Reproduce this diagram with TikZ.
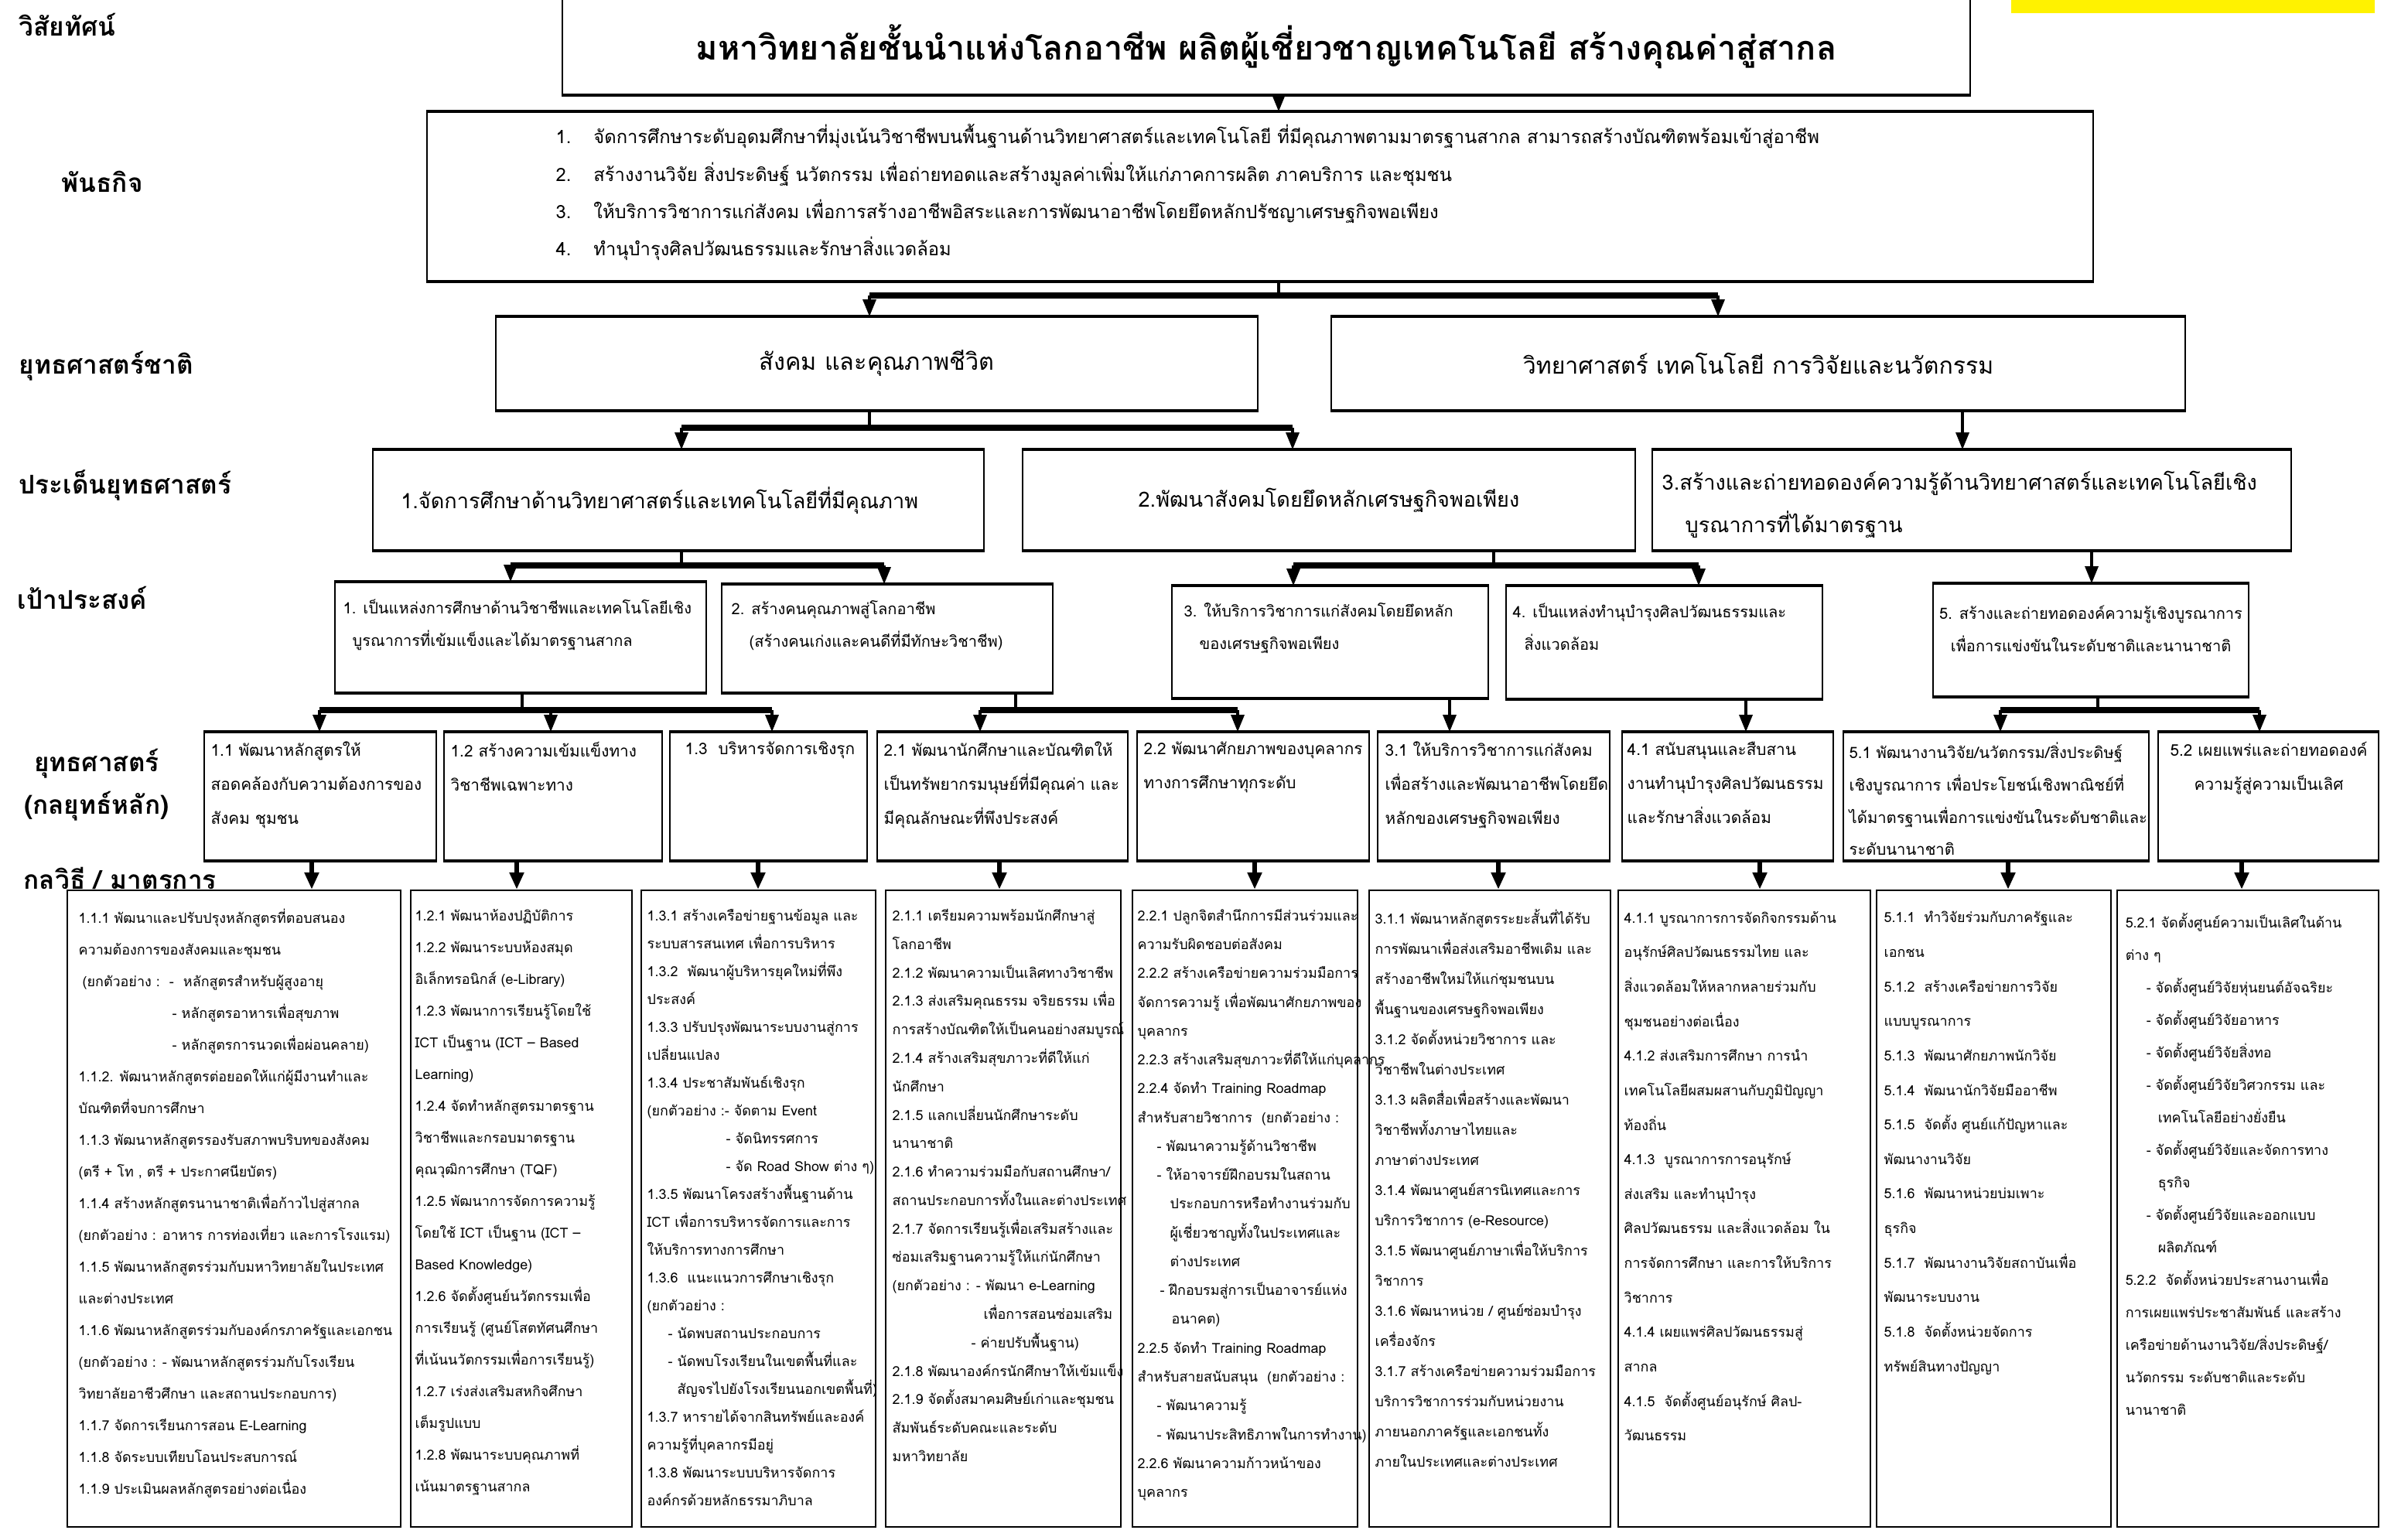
\documentclass[tikz,border=0pt]{standalone}
\usepackage{fontspec}
\setmainfont[Script=Thai]{Loma}
\usetikzlibrary{arrows.meta,fit}

\begin{document}
\begin{tikzpicture}[x=1cm,y=-1cm,
  box/.style={draw,line width=0.5pt,inner sep=0pt},
  mbox/.style={box,line width=0.7pt},
  edge/.style={line width=1.0pt},
  link/.style={line width=0.9pt,-{Triangle[length=0.22cm,width=0.17cm]}},
  drop/.style={line width=1.5pt,-{Triangle[length=0.22cm,width=0.18cm]}},
  stem/.style={line width=1.0pt},
  bar/.style={line width=2.4pt},
  head/.style={font=\bfseries\fontsize{9.5}{15.6}\selectfont,inner sep=0pt},
  txt/.style={inner sep=0pt,align=left,anchor=north west},
  stext/.style={txt,font=\fontsize{5.9}{12.5}\selectfont},
  gtext/.style={txt,font=\fontsize{5.7}{11.95}\selectfont},
  mtext/.style={txt,font=\fontsize{5.1}{#1}\selectfont}]
\useasboundingbox (0,0) rectangle (31.13,19.77);
\fill[yellow] (26.00,0) rectangle (30.70,0.17);

\node[head,anchor=west] (lvis) at (0.24,0.32) {วิสัยทัศน์};
\node[head,anchor=west] (lmis) at (0.79,2.35) {พันธกิจ};
\node[head,anchor=west] (lnat) at (0.24,4.73) {ยุทธศาสตร์ชาติ};
\node[head,anchor=west] (liss) at (0.24,6.27) {ประเด็นยุทธศาสตร์};
\node[head,anchor=west] (lgoal) at (0.22,7.73) {เป้าประสงค์};
\node[head,align=center] (lstr) at (1.25,10.15) {ยุทธศาสตร์\\(กลยุทธ์หลัก)};
\node[head,anchor=west] (lmea) at (0.30,11.35) {กลวิธี / มาตรการ};

\node[box,fit={(7.27,-0.03) (25.47,1.22)}] (vis) {};
\node[font=\bfseries\fontsize{12.3}{15}\selectfont] (vist) at (16.37,0.60)
  {มหาวิทยาลัยชั้นนำแห่งโลกอาชีพ ผลิตผู้เชี่ยวชาญเทคโนโลยี สร้างคุณค่าสู่สากล};

\node[box,fit={(5.52,1.45) (27.06,3.63)}] (mis) {};
\node[txt,font=\fontsize{6.75}{13.75}\selectfont] (mist) at (7.18,1.60)
  {1.\hspace{0.29cm}จัดการศึกษาระดับอุดมศึกษาที่มุ่งเน้นวิชาชีพบนพื้นฐานด้านวิทยาศาสตร์และเทคโนโลยี ที่มีคุณภาพตามมาตรฐานสากล สามารถสร้างบัณฑิตพร้อมเข้าสู่อาชีพ\\
   2.\hspace{0.29cm}สร้างงานวิจัย สิ่งประดิษฐ์ นวัตกรรม เพื่อถ่ายทอดและสร้างมูลค่าเพิ่มให้แก่ภาคการผลิต ภาคบริการ และชุมชน\\
   3.\hspace{0.29cm}ให้บริการวิชาการแก่สังคม เพื่อการสร้างอาชีพอิสระและการพัฒนาอาชีพโดยยึดหลักปรัชญาเศรษฐกิจพอเพียง\\
   4.\hspace{0.29cm}ทำนุบำรุงศิลปวัฒนธรรมและรักษาสิ่งแวดล้อม};

\node[box,fit={(6.41,4.10) (16.26,5.30)}] (n1) {};
\node[font=\fontsize{8.7}{12}\selectfont] (n1t) at (n1.center) {สังคม และคุณภาพชีวิต};
\node[box,fit={(17.21,4.10) (28.25,5.30)}] (n2) {};
\node[font=\fontsize{8.6}{12}\selectfont] (n2t) at (n2.center) {วิทยาศาสตร์ เทคโนโลยี การวิจัยและนวัตกรรม};

\node[box,fit={(4.82,5.82) (12.72,7.11)}] (i1) {};
\node[font=\fontsize{7.7}{15.9}\selectfont,anchor=west] (i1t) at (5.06,6.47)
  {1.จัดการศึกษาด้านวิทยาศาสตร์และเทคโนโลยีที่มีคุณภาพ};
\node[box,fit={(13.22,5.82) (21.14,7.11)}] (i2) {};
\node[font=\fontsize{7.7}{15.9}\selectfont] (i2t) at (i2.center)
  {2.พัฒนาสังคมโดยยึดหลักเศรษฐกิจพอเพียง};
\node[box,fit={(21.36,5.82) (29.62,7.11)}] (i3) {};
\node[txt,font=\fontsize{7.7}{15.9}\selectfont] (i3t) at (21.48,6.08)
  {3.สร้างและถ่ายทอดองค์ความรู้ด้านวิทยาศาสตร์และเทคโนโลยีเชิง\\\hspace*{0.3cm}บูรณาการที่ได้มาตรฐาน};

\node[box,fit={(4.33,7.53) (9.13,8.95)}] (g1) {};
\node[gtext] (g1t) at (4.43,7.74)
  {1. เป็นแหล่งการศึกษาด้านวิชาชีพและเทคโนโลยีเชิง\\\hspace*{0.12cm}บูรณาการที่เข้มแข็งและได้มาตรฐานสากล};
\node[box,fit={(9.33,7.56) (13.61,8.95)}] (g2) {};
\node[gtext] (g2t) at (9.45,7.76)
  {2. สร้างคนคุณภาพสู่โลกอาชีพ\\\hspace*{0.23cm}(สร้างคนเก่งและคนดีที่มีทักษะวิชาชีพ)};
\node[box,fit={(15.15,7.58) (19.24,9.02)}] (g3) {};
\node[gtext] (g3t) at (15.30,7.79)
  {3. ให้บริการวิชาการแก่สังคมโดยยึดหลัก\\\hspace*{0.2cm}ของเศรษฐกิจพอเพียง};
\node[box,fit={(19.47,7.58) (23.56,9.03)}] (g4) {};
\node[gtext] (g4t) at (19.55,7.79)
  {4. เป็นแหล่งทำนุบำรุงศิลปวัฒนธรรมและ\\\hspace*{0.15cm}สิ่งแวดล้อม};
\node[box,fit={(24.99,7.55) (29.07,9.00)}] (g5) {};
\node[gtext,align=center,anchor=center] (g5t) at (27.03,8.13)
  {5. สร้างและถ่ายทอดองค์ความรู้เชิงบูรณาการ\\เพื่อการแข่งขันในระดับชาติและนานาชาติ};

\node[box,fit={(2.64,9.47) (5.64,11.12)}] (s11) {};
\node[stext] (s11t) at (2.72,9.585) {1.1 พัฒนาหลักสูตรให้\\สอดคล้องกับความต้องการของ\\สังคม ชุมชน};
\node[box,fit={(5.74,9.47) (8.56,11.12)}] (s12) {};
\node[stext] (s12t) at (5.82,9.585) {1.2 สร้างความเข้มแข็งทาง\\วิชาชีพเฉพาะทาง};
\node[box,fit={(8.66,9.47) (11.21,11.12)}] (s13) {};
\node[stext] (s13t) at (8.85,9.585) {1.3\ \ บริหารจัดการเชิงรุก};
\node[box,fit={(11.34,9.47) (14.58,11.12)}] (s21) {};
\node[stext] (s21t) at (11.42,9.585) {2.1 พัฒนานักศึกษาและบัณฑิตให้\\เป็นทรัพยากรมนุษย์ที่มีคุณค่า และ\\มีคุณลักษณะที่พึงประสงค์};
\node[box,fit={(14.70,9.47) (17.70,11.12)}] (s22) {};
\node[stext] (s22t) at (14.78,9.585) {2.2 พัฒนาศักยภาพของบุคลากร\\ทางการศึกษาทุกระดับ};
\node[box,fit={(17.81,9.47) (20.81,11.12)}] (s31) {};
\node[stext] (s31t) at (17.90,9.585) {3.1 ให้บริการวิชาการแก่สังคม\\เพื่อสร้างและพัฒนาอาชีพโดยยึด\\หลักของเศรษฐกิจพอเพียง};
\node[box,fit={(20.97,9.47) (23.70,11.12)}] (s41) {};
\node[stext] (s41t) at (21.03,9.585) {4.1 สนับสนุนและสืบสาน\\งานทำนุบำรุงศิลปวัฒนธรรม\\และรักษาสิ่งแวดล้อม};
\node[box,fit={(23.83,9.47) (27.78,11.12)}] (s51) {};
\node[stext,font=\fontsize{5.75}{11.9}\selectfont] (s51t) at (23.90,9.59) {5.1 พัฒนางานวิจัย/นวัตกรรม/สิ่งประดิษฐ์\\เชิงบูรณาการ เพื่อประโยชน์เชิงพาณิชย์ที่\\ได้มาตรฐานเพื่อการแข่งขันในระดับชาติและ\\ระดับนานาชาติ};
\node[box,fit={(27.90,9.47) (30.75,11.12)}] (s52) {};
\node[stext,align=center,anchor=north] (s52t) at (29.33,9.585) {5.2 เผยแพร่และถ่ายทอดองค์\\ความรู้สู่ความเป็นเลิศ};

\foreach \b in {vis,mis,n1,n2,i1,i2,i3,g1,g2,g3,g4,g5,s11,s12,s13,s21,s22,s31,s41,s51,s52}
  \draw[edge] (\b.north west) -- (\b.north east) (\b.south west) -- (\b.south east);

\node[mbox,fit={(0.87,11.51) (5.18,19.74)}] (m11) {};
\node[mtext=11.67pt] (m11t) at (1.01,11.745)
  {1.1.1 พัฒนาและปรับปรุงหลักสูตรที่ตอบสนอง\\
   ความต้องการของสังคมและชุมชน\\
   \hspace*{0.05cm}(ยกตัวอย่าง :\ \ -\ \ หลักสูตรสำหรับผู้สูงอายุ\\
   \hspace*{1.21cm}- หลักสูตรอาหารเพื่อสุขภาพ\\
   \hspace*{1.21cm}- หลักสูตรการนวดเพื่อผ่อนคลาย)\\
   1.1.2. พัฒนาหลักสูตรต่อยอดให้แก่ผู้มีงานทำและ\\
   บัณฑิตที่จบการศึกษา\\
   1.1.3 พัฒนาหลักสูตรรองรับสภาพบริบทของสังคม\\
   (ตรี + โท , ตรี + ประกาศนียบัตร)\\
   1.1.4 สร้างหลักสูตรนานาชาติเพื่อก้าวไปสู่สากล\\
   (ยกตัวอย่าง : อาหาร การท่องเที่ยว และการโรงแรม)\\
   1.1.5 พัฒนาหลักสูตรร่วมกับมหาวิทยาลัยในประเทศ\\
   และต่างประเทศ\\
   1.1.6 พัฒนาหลักสูตรร่วมกับองค์กรภาครัฐและเอกชน\\
   (ยกตัวอย่าง : - พัฒนาหลักสูตรร่วมกับโรงเรียน\\
   วิทยาลัยอาชีวศึกษา และสถานประกอบการ)\\
   1.1.7 จัดการเรียนการสอน E-Learning\\
   1.1.8 จัดระบบเทียบโอนประสบการณ์\\
   1.1.9 ประเมินผลหลักสูตรอย่างต่อเนื่อง};

\node[mbox,fit={(5.31,11.51) (8.17,19.74)}] (m12) {};
\node[mtext=11.67pt] (m12t) at (5.36,11.745)
  {1.2.1 พัฒนาห้องปฏิบัติการ\\
   1.2.2 พัฒนาระบบห้องสมุด\\
   อิเล็กทรอนิกส์ (e-Library)\\
   1.2.3 พัฒนาการเรียนรู้โดยใช้\\
   ICT เป็นฐาน (ICT – Based\\
   Learning)\\
   1.2.4 จัดทำหลักสูตรมาตรฐาน\\
   วิชาชีพและกรอบมาตรฐาน\\
   คุณวุฒิการศึกษา (TQF)\\
   1.2.5 พัฒนาการจัดการความรู้\\
   โดยใช้ ICT เป็นฐาน (ICT –\\
   Based Knowledge)\\
   1.2.6 จัดตั้งศูนย์นวัตกรรมเพื่อ\\
   การเรียนรู้ (ศูนย์โสตทัศนศึกษา\\
   ที่เน้นนวัตกรรมเพื่อการเรียนรู้)\\
   1.2.7 เร่งส่งเสริมสหกิจศึกษา\\
   เต็มรูปแบบ\\
   1.2.8 พัฒนาระบบคุณภาพที่\\
   เน้นมาตรฐานสากล};

\node[mbox,fit={(8.29,11.51) (11.32,19.74)}] (m13) {};
\node[mtext=10.24pt] (m13t) at (8.36,11.745)
  {1.3.1 สร้างเครือข่ายฐานข้อมูล และ\\
   ระบบสารสนเทศ เพื่อการบริหาร\\
   1.3.2\ \ พัฒนาผู้บริหารยุคใหม่ที่พึง\\
   ประสงค์\\
   1.3.3 ปรับปรุงพัฒนาระบบงานสู่การ\\
   เปลี่ยนแปลง\\
   1.3.4 ประชาสัมพันธ์เชิงรุก\\
   (ยกตัวอย่าง :- จัดตาม Event\\
   \hspace*{1.02cm}- จัดนิทรรศการ\\
   \hspace*{1.02cm}- จัด Road Show ต่าง ๆ)\\
   1.3.5 พัฒนาโครงสร้างพื้นฐานด้าน\\
   ICT เพื่อการบริหารจัดการและการ\\
   ให้บริการทางการศึกษา\\
   1.3.6\ \ แนะแนวการศึกษาเชิงรุก\\
   (ยกตัวอย่าง :\\
   \hspace*{0.27cm}- นัดพบสถานประกอบการ\\
   \hspace*{0.27cm}- นัดพบโรงเรียนในเขตพื้นที่และ\\
   \hspace*{0.39cm}สัญจรไปยังโรงเรียนนอกเขตพื้นที่)\\
   1.3.7 หารายได้จากสินทรัพย์และองค์\\
   ความรู้ที่บุคลากรมีอยู่\\
   1.3.8 พัฒนาระบบบริหารจัดการ\\
   องค์กรด้วยหลักธรรมาภิบาล};

\node[mbox,fit={(11.45,11.51) (14.49,19.74)}] (m21) {};
\node[mtext=10.47pt] (m21t) at (11.53,11.745)
  {2.1.1 เตรียมความพร้อมนักศึกษาสู่\\
   โลกอาชีพ\\
   2.1.2 พัฒนาความเป็นเลิศทางวิชาชีพ\\
   2.1.3 ส่งเสริมคุณธรรม จริยธรรม เพื่อ\\
   การสร้างบัณฑิตให้เป็นคนอย่างสมบูรณ์\\
   2.1.4 สร้างเสริมสุขภาวะที่ดีให้แก่\\
   นักศึกษา\\
   2.1.5 แลกเปลี่ยนนักศึกษาระดับ\\
   นานาชาติ\\
   2.1.6 ทำความร่วมมือกับสถานศึกษา/\\
   สถานประกอบการทั้งในและต่างประเทศ\\
   2.1.7 จัดการเรียนรู้เพื่อเสริมสร้างและ\\
   ซ่อมเสริมฐานความรู้ให้แก่นักศึกษา\\
   (ยกตัวอย่าง : - พัฒนา e-Learning\\
   \hspace*{1.18cm}เพื่อการสอนซ่อมเสริม\\
   \hspace*{1.02cm}- ค่ายปรับพื้นฐาน)\\
   2.1.8 พัฒนาองค์กรนักศึกษาให้เข้มแข็ง\\
   2.1.9 จัดตั้งสมาคมศิษย์เก่าและชุมชน\\
   สัมพันธ์ระดับคณะและระดับ\\
   มหาวิทยาลัย};

\node[mbox,fit={(14.64,11.51) (17.55,19.74)}] (m22) {};
\node[mtext=10.6pt] (m22t) at (14.70,11.745)
  {2.2.1 ปลูกจิตสำนึกการมีส่วนร่วมและ\\
   ความรับผิดชอบต่อสังคม\\
   2.2.2 สร้างเครือข่ายความร่วมมือการ\\
   จัดการความรู้ เพื่อพัฒนาศักยภาพของ\\
   บุคลากร\\
   2.2.3 สร้างเสริมสุขภาวะที่ดีให้แก่บุคลากร\\
   2.2.4 จัดทำ Training Roadmap\\
   สำหรับสายวิชาการ\ \ (ยกตัวอย่าง :\\
   \hspace*{0.25cm}- พัฒนาความรู้ด้านวิชาชีพ\\
   \hspace*{0.25cm}- ให้อาจารย์ฝึกอบรมในสถาน\\
   \hspace*{0.42cm}ประกอบการหรือทำงานร่วมกับ\\
   \hspace*{0.42cm}ผู้เชี่ยวชาญทั้งในประเทศและ\\
   \hspace*{0.42cm}ต่างประเทศ\\
   \hspace*{0.29cm}- ฝึกอบรมสู่การเป็นอาจารย์แห่ง\\
   \hspace*{0.44cm}อนาคต)\\
   2.2.5 จัดทำ Training Roadmap\\
   สำหรับสายสนับสนุน\ \ (ยกตัวอย่าง :\\
   \hspace*{0.25cm}- พัฒนาความรู้\\
   \hspace*{0.25cm}- พัฒนาประสิทธิภาพในการทำงาน)\\
   2.2.6 พัฒนาความก้าวหน้าของ\\
   บุคลากร};

\node[mbox,fit={(17.70,11.51) (20.82,19.74)}] (m31) {};
\node[mtext=11.1pt] (m31t) at (17.77,11.745)
  {3.1.1 พัฒนาหลักสูตรระยะสั้นที่ได้รับ\\
   การพัฒนาเพื่อส่งเสริมอาชีพเดิม และ\\
   สร้างอาชีพใหม่ให้แก่ชุมชนบน\\
   พื้นฐานของเศรษฐกิจพอเพียง\\
   3.1.2 จัดตั้งหน่วยวิชาการ และ\\
   วิชาชีพในต่างประเทศ\\
   3.1.3 ผลิตสื่อเพื่อสร้างและพัฒนา\\
   วิชาชีพทั้งภาษาไทยและ\\
   ภาษาต่างประเทศ\\
   3.1.4 พัฒนาศูนย์สารนิเทศและการ\\
   บริการวิชาการ (e-Resource)\\
   3.1.5 พัฒนาศูนย์ภาษาเพื่อให้บริการ\\
   วิชาการ\\
   3.1.6 พัฒนาหน่วย / ศูนย์ซ่อมบำรุง\\
   เครื่องจักร\\
   3.1.7 สร้างเครือข่ายความร่วมมือการ\\
   บริการวิชาการร่วมกับหน่วยงาน\\
   ภายนอกภาครัฐและเอกชนทั้ง\\
   ภายในประเทศและต่างประเทศ};

\node[mbox,fit={(20.92,11.51) (24.18,19.74)}] (m41) {};
\node[mtext=12.7pt] (m41t) at (20.99,11.775)
  {4.1.1 บูรณาการการจัดกิจกรรมด้าน\\
   อนุรักษ์ศิลปวัฒนธรรมไทย และ\\
   สิ่งแวดล้อมให้หลากหลายร่วมกับ\\
   ชุมชนอย่างต่อเนื่อง\\
   4.1.2 ส่งเสริมการศึกษา การนำ\\
   เทคโนโลยีผสมผสานกับภูมิปัญญา\\
   ท้องถิ่น\\
   4.1.3\ \ บูรณาการการอนุรักษ์\\
   ส่งเสริม และทำนุบำรุง\\
   ศิลปวัฒนธรรม และสิ่งแวดล้อม ใน\\
   การจัดการศึกษา และการให้บริการ\\
   วิชาการ\\
   4.1.4 เผยแพร่ศิลปวัฒนธรรมสู่\\
   สากล\\
   4.1.5\ \ จัดตั้งศูนย์อนุรักษ์ ศิลป-\\
   วัฒนธรรม};

\node[mbox,fit={(24.26,11.51) (27.29,19.74)}] (m51) {};
\node[mtext=12.7pt] (m51t) at (24.35,11.775)
  {5.1.1\ \ ทำวิจัยร่วมกับภาครัฐและ\\
   เอกชน\\
   5.1.2\ \ สร้างเครือข่ายการวิจัย\\
   แบบบูรณาการ\\
   5.1.3\ \ พัฒนาศักยภาพนักวิจัย\\
   5.1.4\ \ พัฒนานักวิจัยมืออาชีพ\\
   5.1.5\ \ จัดตั้ง ศูนย์แก้ปัญหาและ\\
   พัฒนางานวิจัย\\
   5.1.6\ \ พัฒนาหน่วยบ่มเพาะ\\
   ธุรกิจ\\
   5.1.7\ \ พัฒนางานวิจัยสถาบันเพื่อ\\
   พัฒนาระบบงาน\\
   5.1.8\ \ จัดตั้งหน่วยจัดการ\\
   ทรัพย์สินทางปัญญา};

\node[mbox,fit={(27.37,11.51) (30.75,19.74)}] (m52) {};
\node[mtext=11.95pt] (m52t) at (27.47,11.795)
  {5.2.1 จัดตั้งศูนย์ความเป็นเลิศในด้าน\\
   ต่าง ๆ\\
   \hspace*{0.27cm}- จัดตั้งศูนย์วิจัยหุ่นยนต์อัจฉริยะ\\
   \hspace*{0.27cm}- จัดตั้งศูนย์วิจัยอาหาร\\
   \hspace*{0.27cm}- จัดตั้งศูนย์วิจัยสิ่งทอ\\
   \hspace*{0.27cm}- จัดตั้งศูนย์วิจัยวิศวกรรม และ\\
   \hspace*{0.42cm}เทคโนโลยีอย่างยั่งยืน\\
   \hspace*{0.27cm}- จัดตั้งศูนย์วิจัยและจัดการทาง\\
   \hspace*{0.42cm}ธุรกิจ\\
   \hspace*{0.27cm}- จัดตั้งศูนย์วิจัยและออกแบบ\\
   \hspace*{0.42cm}ผลิตภัณฑ์\\
   5.2.2\ \ จัดตั้งหน่วยประสานงานเพื่อ\\
   การเผยแพร่ประชาสัมพันธ์ และสร้าง\\
   เครือข่ายด้านงานวิจัย/สิ่งประดิษฐ์/\\
   นวัตกรรม ระดับชาติและระดับ\\
   นานาชาติ};

\coordinate (b1) at (16.53,3.82);
\coordinate (b1w) at (11.24,3.82);
\coordinate (b1e) at (22.21,3.82);
\draw[link] (b1 |- vis.south) -- (b1 |- mis.north);
\draw[stem] (b1 |- mis.south) -- (b1);
\draw[bar] (b1w) -- (b1e);
\draw[link] (b1w) -- (b1w |- n1.north);
\draw[link] (b1e) -- (b1e |- n2.north);

\coordinate (b2) at (11.24,5.53);
\coordinate (b2w) at (8.81,5.53);
\coordinate (b2e) at (16.71,5.53);
\draw[stem] (b2 |- n1.south) -- (b2);
\draw[bar] (b2w) -- (b2e);
\draw[link] (b2w) -- (b2w |- i1.north);
\draw[link] (b2e) -- (b2e |- i2.north);
\draw[link] (25.37,0 |- n2.south) -- (25.37,0 |- i3.north);

\coordinate (b3) at (8.81,7.31);
\coordinate (b3w) at (6.60,7.31);
\coordinate (b3e) at (11.43,7.31);
\draw[stem] (b3 |- i1.south) -- (b3);
\draw[bar] (b3w) -- (b3e);
\draw[link] (b3w) -- (b3w |- g1.north);
\draw[link] (b3e) -- (b3e |- g2.north);

\coordinate (b4) at (19.31,7.31);
\coordinate (b4w) at (16.72,7.31);
\coordinate (b4e) at (21.96,7.31);
\draw[stem] (b4 |- i2.south) -- (b4);
\draw[bar] (b4w) -- (b4e);
\draw[link] (b4w) -- (b4w |- g3.north);
\draw[link] (b4e) -- (b4e |- g4.north);
\draw[link] (27.04,0 |- i3.south) -- (27.04,0 |- g5.north);

\coordinate (b5) at (6.75,9.18);
\coordinate (b5w) at (4.13,9.18);
\coordinate (b5m) at (7.12,9.18);
\coordinate (b5e) at (9.98,9.18);
\draw[stem] (b5 |- g1.south) -- (b5);
\draw[bar] (b5w) -- (b5e);
\draw[link] (b5w) -- (b5w |- s11.north);
\draw[link] (b5m) -- (b5m |- s12.north);
\draw[link] (b5e) -- (b5e |- s13.north);

\coordinate (b6) at (13.13,9.18);
\coordinate (b6w) at (12.67,9.18);
\coordinate (b6e) at (16.00,9.18);
\draw[stem] (b6 |- g2.south) -- (b6);
\draw[bar] (b6w) -- (b6e);
\draw[link] (b6w) -- (b6w |- s21.north);
\draw[link] (b6e) -- (b6e |- s22.north);
\draw[link] (18.74,0 |- g3.south) -- (18.74,0 |- s31.north);
\draw[link] (22.57,0 |- g4.south) -- (22.57,0 |- s41.north);

\coordinate (b7) at (27.12,9.18);
\coordinate (b7w) at (25.86,9.18);
\coordinate (b7e) at (29.21,9.18);
\draw[stem] (b7 |- g5.south) -- (b7);
\draw[bar] (b7w) -- (b7e);
\draw[link] (b7w) -- (b7w |- s51.north);
\draw[link] (b7e) -- (b7e |- s52.north);

\foreach \s/\m/\x in {s11/m11/4.03,s12/m12/6.68,s13/m13/9.80,s21/m21/12.92,s22/m22/16.22,
    s31/m31/19.37,s41/m41/22.75,s51/m51/25.96,s52/m52/28.98}
  \draw[drop] (\x,0 |- \s.south) -- (\x,0 |- \m.north);
\end{tikzpicture}
\end{document}
